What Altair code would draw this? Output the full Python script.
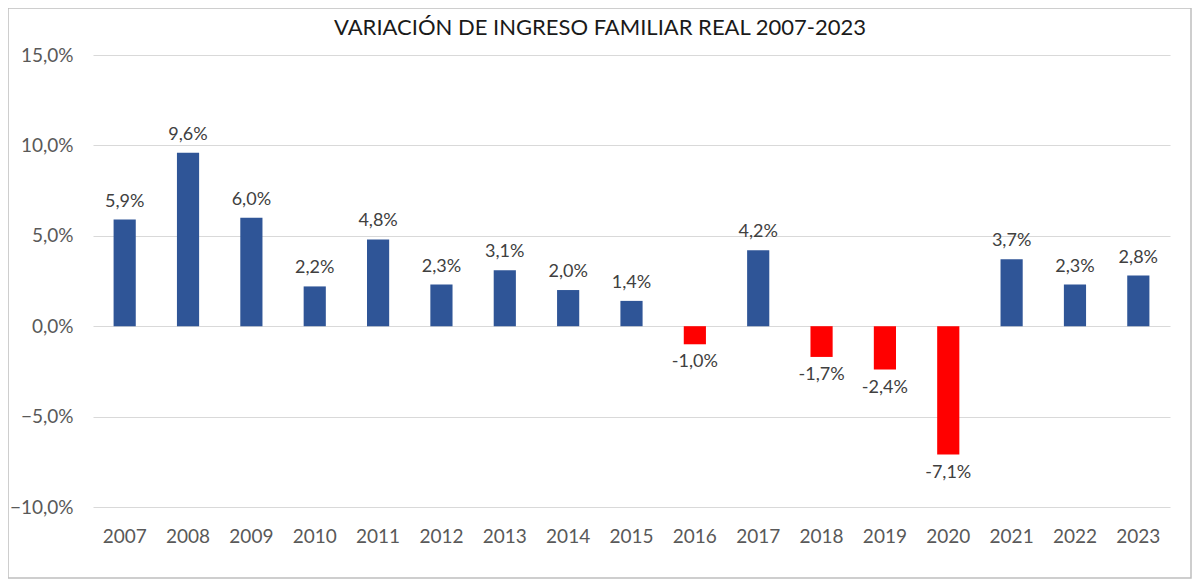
import altair as alt
import pandas as pd

years = ["2007", "2008", "2009", "2010", "2011", "2012", "2013", "2014", "2015",
         "2016", "2017", "2018", "2019", "2020", "2021", "2022", "2023"]
values = [5.9, 9.6, 6.0, 2.2, 4.8, 2.3, 3.1, 2.0, 1.4,
          -1.0, 4.2, -1.7, -2.4, -7.1, 3.7, 2.3, 2.8]
title_text = "VARIACIÓN DE INGRESO FAMILIAR REAL 2007-2023"

df = pd.DataFrame({"year": years, "value": [v / 100 for v in values]})
df["label"] = [f"{v:.1f}%".replace(".", ",") for v in values]
df["sign"] = ["pos" if v >= 0 else "neg" for v in values]

W, H = 1077, 452
PL, PT, PR, PB = 85, 47, 22, 73
FONT = "Lato"

x = alt.X("year:N", sort=years, title=None,
          scale=alt.Scale(paddingInner=0.65, paddingOuter=0.325),
          axis=alt.Axis(labelAngle=0, ticks=False, domain=False, grid=False,
                        labelFontSize=19, labelColor="#595959", labelFont=FONT,
                        labelPadding=20))
y = alt.Y("value:Q", title=None,
          scale=alt.Scale(domain=[-0.10, 0.15], nice=False),
          axis=alt.Axis(values=[-0.10, -0.05, 0, 0.05, 0.10, 0.15],
                        labelExpr="replace(format(datum.value, '.1%'), '.', ',')",
                        ticks=False, domain=False, gridColor="#d9d9d9",
                        labelFontSize=19, labelColor="#595959", labelFont=FONT,
                        labelPadding=20))

bars = alt.Chart(df).mark_bar().encode(
    x=x, y=y,
    color=alt.Color("sign:N", scale=alt.Scale(domain=["pos", "neg"],
                                              range=["#2F5597", "#FF0000"]),
                    legend=None),
)

pos_labels = alt.Chart(df).transform_filter("datum.value >= 0").mark_text(
    baseline="bottom", dy=-9, fontSize=18, color="#404040", font=FONT
).encode(x=x, y=y, text="label:N")

neg_labels = alt.Chart(df).transform_filter("datum.value < 0").mark_text(
    baseline="top", dy=9, fontSize=18, color="#404040", font=FONT
).encode(x=x, y=y, text="label:N")

border = alt.Chart(pd.DataFrame({"a": [0]})).mark_rect(
    fill=None, stroke="#bfbfbf", strokeWidth=1.5
).encode(x=alt.value(-PL), x2=alt.value(W + PR - 1),
         y=alt.value(-PT), y2=alt.value(H + PB - 2))

title = alt.Chart(pd.DataFrame({"t": [title_text]})).mark_text(
    fontSize=22, font=FONT, color="#1a1a1a", baseline="middle", align="center"
).encode(x=alt.value(507), y=alt.value(-27), text="t:N")

chart = alt.layer(border, bars, pos_labels, neg_labels, title).properties(
    width=W, height=H,
    background="white",
    autosize=alt.AutoSizeParams(type="none"),
    padding={"left": PL, "top": PT, "right": PR, "bottom": PB},
).configure_view(stroke="transparent", strokeWidth=0)

chart.save("out.html", embed_options={"renderer": "svg", "actions": False})
